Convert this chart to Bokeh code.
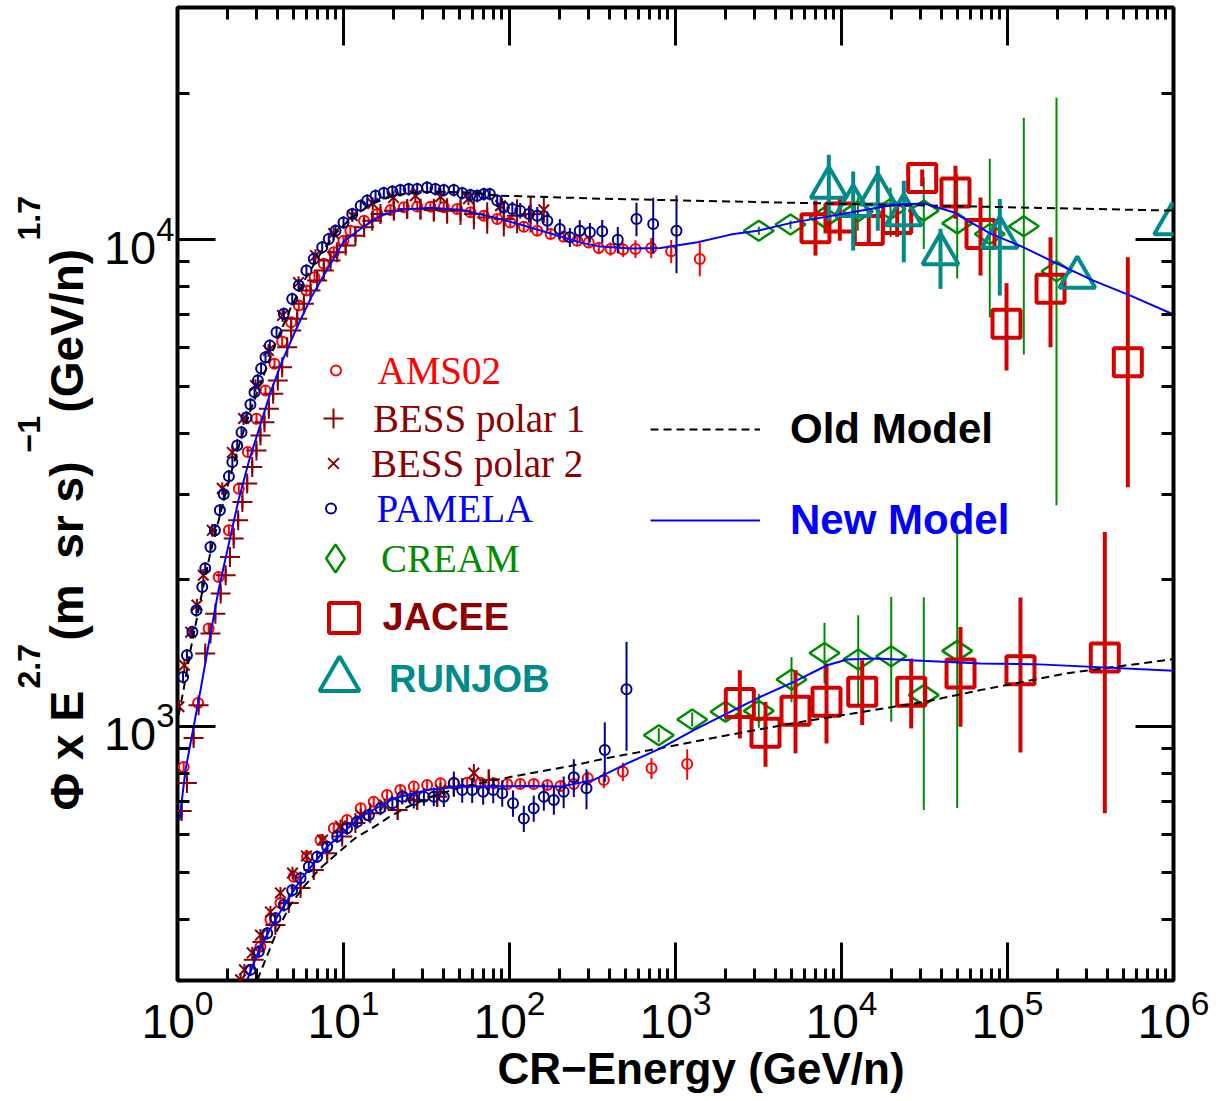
import math
from bokeh.plotting import figure
from bokeh.layouts import row
from bokeh.models import (Range1d, LogAxis, LogTicker, FixedTicker, Legend,
                          LegendItem, Label, Title)
from bokeh.embed import file_html
from bokeh.resources import INLINE

# ------------------------------------------------------------------
# DATA  (E in GeV/n, flux values = Phi x E^2.7)
# ------------------------------------------------------------------
# ---- upper group ----
pamela_p_E = [1.08, 1.14, 1.23, 1.30, 1.41, 1.47, 1.58, 1.68, 1.80, 1.90,
              2.04, 2.14, 2.29, 2.43, 2.60, 2.75, 2.91, 3.05, 3.19, 3.39,
              3.60, 3.95, 4.37, 4.91, 5.38, 5.98, 6.62, 7.44, 8.15, 8.95,
              10.0, 11.3, 12.7, 13.9, 15.6, 17.5, 19.7, 22.0, 24.7, 27.8,
              31.9, 35.8, 40.2, 46.2, 51.9, 58.2, 63.9, 70.0, 76.1, 84.3,
              92.4, 104, 116, 131, 147, 169, 201, 231, 265, 305,
              362, 449, 582, 734, 1014]
pamela_p_F = [1262, 1399, 1562, 1731, 1932, 2110, 2335, 2526, 2777, 2995,
              3261, 3489, 3776, 4016, 4310, 4583, 4858, 5135, 5435, 5732,
              6058, 6452, 7038, 7552, 8045, 8636, 9128, 9643, 10030, 10430,
              10850, 11290, 11740, 12030, 12310, 12470, 12560, 12650, 12710, 12710,
              12800, 12710, 12650, 12650, 12470, 12350, 12310, 12410, 12410, 12030,
              11650, 11560, 11470, 11290, 11200, 10940, 10520, 10110, 10430, 10350,
              10400, 9990, 11030, 10770, 10430]
pamela_p_err = [38, 42, 47, 52, 58, 63, 70, 76, 83, 90,
                98, 105, 113, 120, 129, 137, 146, 154, 163, 172,
                182, 194, 211, 227, 241, 259, 274, 289, 301, 313,
                326, 339, 352, 361, 369, 374, 377, 380, 381, 381,
                384, 381, 380, 380, 374, 371, 369, 372, 372, 361,
                360, 400, 420, 450, 470, 500, 500, 450, 530, 470,
                570, 620, 870, 1415, 1900]

ams_p_E = [1.09, 1.33, 1.54, 1.77, 2.04, 2.34, 2.65, 2.99, 3.39, 3.84,
           4.27, 4.84, 5.38, 5.98, 6.69, 7.61, 8.74, 10.0, 11.0, 13.3,
           16.0, 19.2, 23.1, 27.8, 33.4, 40.2, 48.4, 58.2, 70.0, 84.3,
           101, 122, 147, 177, 212, 256, 300, 345, 406, 484,
           574, 714, 942, 1401]
ams_p_F = [824, 1116, 1587, 2026, 2526, 3077, 3658, 4283, 4897, 5558,
           6175, 6764, 7319, 7858, 8368, 8916, 9417, 9950, 10430, 10940,
           11290, 11510, 11650, 11690, 11690, 11650, 11560, 11380, 11200, 11030,
           10850, 10630, 10430, 10270, 10140, 9950, 9870, 9616, 9570, 9540,
           9570, 9616, 9462, 9128]
ams_p_err = [21, 28, 40, 51, 63, 77, 91, 107, 122, 139,
             154, 169, 183, 196, 209, 223, 235, 249, 261, 274,
             282, 288, 291, 292, 292, 291, 289, 285, 280, 276,
             271, 266, 261, 257, 254, 260, 270, 280, 300, 330,
             400, 460, 520, 720]

bess1_p_E = [1.06, 1.14, 1.25, 1.34, 1.47, 1.58, 1.69, 1.82, 1.95, 2.07,
             2.18, 2.32, 2.46, 2.63, 2.82, 2.99, 3.16, 3.34, 3.55, 3.77,
             4.02, 4.27, 4.58, 4.84, 5.26, 5.77, 6.33, 6.94, 7.61, 8.35,
             9.16, 10.3, 11.8, 13.3, 14.9, 16.7, 20.1, 24.2, 29.1, 35.0,
             42.1, 50.7, 61.0, 73.4, 92.4, 111, 134]
bess1_p_F = [669, 764, 945, 1104, 1410, 1550, 1703, 1873, 2042, 2227,
             2429, 2649, 2888, 3151, 3408, 3688, 3959, 4215, 4491, 4822,
             5135, 5469, 6010, 6503, 6875, 7379, 7858, 8238, 8636, 9055,
             9417, 9720, 10190, 10600, 10940, 11290, 11470, 11560, 11560, 11510,
             11470, 11470, 11290, 11110, 11030, 11200, 11290]
bess1_p_err = [20, 23, 28, 33, 42, 47, 51, 56, 61, 67,
               73, 79, 87, 95, 102, 111, 119, 126, 135, 145,
               154, 164, 180, 195, 206, 221, 236, 247, 259, 272,
               283, 292, 306, 318, 350, 400, 460, 520, 580, 630,
               690, 750, 790, 830, 880, 900, 950]

bess2_p_E = [1.02, 1.10, 1.20, 1.31, 1.43, 1.62, 1.86, 2.14, 2.50, 2.95,
             3.53, 4.29, 5.36, 6.78, 8.71, 11.3, 15.0, 20.0, 27.1, 38.4,
             56.6, 88.3, 161]
bess2_p_F = [1096, 1334, 1560, 1773, 2042, 2526, 3081, 3653, 4288, 5014,
             5918, 6982, 8162, 9271, 10290, 11200, 11860, 12200, 12310, 12250,
             12140, 11740, 11520]
bess2_p_err = [33, 40, 47, 53, 61, 76, 92, 110, 129, 150,
               178, 209, 245, 278, 309, 336, 356, 366, 369, 368,
               364, 470, 700]

cream_p_E = [3176, 4930, 7900, 12540, 19740, 31310, 49770, 78220, 125400, 197300]
cream_p_F = [10430, 10740, 11110, 11430, 11560, 11470, 10800, 10270, 10650, 8608]
cream_p_lo = [10220, 10530, 10290, 10430, 10110, 9570, 8315, 6917, 5806, 2843]
cream_p_hi = [10640, 10950, 11860, 12210, 12800, 13430, 13660, 14670, 17800, 19570]

jacee_p_E = [6970, 9770, 14600, 21650, 30620, 48600, 68770, 98630, 181600, 530500]
jacee_p_F = [10550, 11110, 10470, 11030, 13390, 12500, 10270, 6713, 7921, 5598]
jacee_p_lo = [9271, 9952, 9720, 10140, 12870, 11040, 8436, 5383, 6010, 3096]
jacee_p_hi = [12030, 12210, 11580, 11860, 13930, 14190, 12210, 8136, 10110, 9200]

runjob_p_E = [8385, 11760, 16550, 23730, 39480, 89870, 263000, 982000]
runjob_p_F = [12800, 11740, 12410, 11250, 9346, 10110, 8368, 10770]
runjob_p_lo = [10940, 9493, 10430, 8984, 7921, 7674, 8368, 10770]
runjob_p_hi = [14940, 13810, 14190, 13220, 10530, 12120, 8368, 10770]

old_p_E = [1.014, 1.087, 1.197, 1.376, 1.58, 1.82, 2.09, 2.40, 2.75, 3.25,
           3.89, 4.79, 5.90, 7.27, 8.95, 11.0, 14.5, 19.2, 25.3, 38.4,
           58.2, 88.3, 353, 2057, 22670, 1000000]
old_p_F = [1053, 1186, 1432, 1815, 2277, 2750, 3292, 3867, 4455, 5183,
           6115, 7215, 8316, 9360, 10290, 11040, 11800, 12250, 12490, 12550,
           12490, 12310, 12140, 11980, 11780, 11470]

new_p_E = [1.028, 1.117, 1.249, 1.376, 1.537, 1.766, 2.028, 2.33, 2.68, 3.08,
           3.63, 4.29, 5.14, 6.33, 7.79, 10.0, 12.7, 16.7, 22.0, 33.4,
           50.7, 76.8, 116, 177, 268, 353, 536, 812, 1357, 2145,
           3119, 5137, 8235, 13020, 20570, 31190, 47280, 79000, 124900, 200100,
           329700, 550800, 1000000]
new_p_F = [641, 812, 995, 1186, 1467, 1902, 2353, 2911, 3484, 4054,
           4851, 5644, 6503, 7564, 8556, 9905, 10530, 11200, 11520, 11630,
           11520, 11150, 10740, 10290, 9859, 9674, 9584, 9616, 9873, 10240,
           10430, 10850, 11150, 11470, 11800, 11870, 11380, 10290, 9643, 8916,
           8238, 7674, 7015]

# ---- lower group ----
pamela_he_E = [2.75, 3.09, 3.47, 3.89, 4.37, 4.91, 5.51, 6.18, 6.94, 7.98,
               9.16, 10.5, 12.1, 14.2, 16.7, 19.7, 22.6, 26.5, 30.5, 35.0,
               40.2, 46.2, 51.9, 59.6, 69.4, 79.8, 90.4, 105, 122, 140,
               161, 185, 212, 244, 291, 375, 507]
pamela_he_F = [315.5, 344, 375, 403, 429, 460, 487, 514, 539, 565,
               593, 617, 636, 656, 678, 694, 716, 705, 716, 716,
               716, 763, 739, 739, 733, 739, 728, 694, 646, 678,
               716, 705, 733, 785, 745, 893, 1190]
pamela_he_err = [9, 10, 11, 12, 13, 14, 15, 15, 16, 17,
                 18, 19, 20, 21, 22, 24, 26, 28, 30, 32,
                 34, 44, 43, 44, 44, 45, 45, 43, 40, 42,
                 46, 48, 55, 70, 70, 125, 300]

ams_he_E = [3.16, 3.63, 4.17, 5.02, 6.04, 7.27, 8.74, 10.5, 12.7, 15.2,
            18.3, 22.0, 26.5, 31.9, 38.4, 46.2, 55.6, 66.9, 80.4, 96.9,
            116, 140, 169, 203, 244, 296, 370, 482, 717, 1176]
ams_he_F = [352, 400, 433, 490, 539, 583, 617, 641, 678, 699,
            722, 739, 751, 757, 763, 765, 765, 765, 763, 760,
            760, 760, 757, 753, 760, 781, 775, 806, 819, 836]
ams_he_err = [7, 8, 9, 10, 11, 12, 12, 13, 14, 14,
              14, 15, 15, 15, 15, 15, 15, 15, 15, 15,
              16, 17, 18, 19, 22, 26, 30, 35, 40, 60]

bess1_he_E = [2.88, 3.25, 3.89, 4.68, 5.51, 6.62, 7.98, 9.82, 11.8, 14.5,
              21.2, 27.8, 36.7, 46.2, 75.0]
bess1_he_F = [331, 360, 390, 433, 465, 506, 548, 593, 632, 662,
              672, 705, 716, 751, 775]
bess1_he_err = [10, 11, 12, 13, 14, 15, 16, 18, 19, 20,
                30, 32, 34, 36, 40]

bess2_he_E = [2.40, 2.53, 2.82, 3.16, 3.63, 4.17, 4.93, 5.98, 7.47, 9.59,
              12.7, 17.7, 25.3, 38.4, 61.0]
bess2_he_F = [301, 315.5, 342, 372, 415, 454, 499, 541, 583, 623,
              656, 688, 715, 739, 801]
bess2_he_err = [9, 9, 10, 11, 12, 13, 15, 16, 17, 19,
                20, 21, 22, 25, 35]

cream_he_E = [793, 1261, 2001, 3176, 4998, 7900, 12610, 19930, 31310, 49770]
cream_he_F = [958, 1032, 1070, 1075, 1247, 1414, 1371, 1392, 1158, 1428]
cream_he_lo = [927, 998, 1021, 992, 1120, 1224, 1096, 1021, 672, 679]
cream_he_hi = [990, 1067, 1122, 1165, 1386, 1630, 1690, 1843, 1840, 2586]

jacee_he_E = [2440, 3485, 5284, 8121, 13330, 26300, 52120, 119700, 385600]
jacee_he_F = [1116, 969, 1075, 1122, 1176, 1176, 1283, 1303, 1384]
jacee_he_lo = [943, 825, 879, 921, 1005, 989, 997, 883, 662]
jacee_he_hi = [1303, 1122, 1303, 1345, 1366, 1377, 1599, 1838, 2506]

old_he_E = [3.03, 3.39, 4.00, 4.79, 5.74, 7.27, 9.20, 11.8, 15.2, 19.2,
            24.3, 33.4, 50.7, 101, 233, 389, 812, 2057, 5137, 13020,
            32970, 68770, 229800, 1000000]
old_he_F = [301, 331, 381, 429, 467, 511, 548, 589, 620, 653,
            682, 715, 749, 786, 828, 860, 901, 958, 1014, 1068,
            1125, 1186, 1285, 1373]

new_he_E = [2.63, 3.16, 3.99, 5.51, 7.98, 12.7, 20.1, 31.9, 50.7, 128,
            203, 322, 512, 812, 1289, 2048, 3251, 5160, 8201, 10820,
            16410, 26040, 68770, 144000, 1000000]
new_he_F = [301, 352, 406, 483, 565, 651, 710, 739, 751, 753,
            751, 775, 838, 900, 981, 1062, 1149, 1233, 1334, 1371,
            1377, 1366, 1345, 1341, 1300]

y_major_ticks = [1000, 10000]
y_minor_ticks = [400, 500, 600, 700, 800, 900, 2000, 3000, 4000, 5000,
                 6000, 7000, 8000, 9000, 20000, 30000]

# ------------------------------------------------------------------
C_AMS = "#ff0000"
C_BESS = "#8b0000"
C_PAM = "#00008b"
C_CREAM = "#008c00"
C_JACEE = "#d40000"
C_RUN = "#008b8b"
SERIF = "Liberation Serif"
SANS = "Liberation Sans"

LEFT_W = 100         # width of the strip that carries the y-axis title
H = 1101
TOP_B = 7            # frame top (px from top)
BOT_B = 121          # space below frame

# ------------------------------------------------------------------
p = figure(width=1221 - LEFT_W, height=H, x_axis_type="log", y_axis_type="log",
           x_range=Range1d(1, 1e6), y_range=Range1d(300, 30000),
           output_backend="svg", toolbar_location=None,
           min_border_left=177 - LEFT_W, min_border_right=48,
           min_border_top=TOP_B, min_border_bottom=BOT_B)
p.grid.visible = False
p.outline_line_color = "black"
p.outline_line_width = 4
p.background_fill_color = "white"
p.border_fill_color = "white"


def style_ticks(ax):
    ax.axis_line_color = None
    ax.major_tick_in = 38
    ax.major_tick_out = 0
    ax.major_tick_line_width = 3
    ax.major_tick_line_color = "black"
    ax.minor_tick_in = 12
    ax.minor_tick_out = 0
    ax.minor_tick_line_width = 3
    ax.minor_tick_line_color = "black"


xb = p.below[0]
yl = p.left[0]
xb.ticker = LogTicker(num_minor_ticks=10)
yl.ticker = FixedTicker(ticks=y_major_ticks, minor_ticks=y_minor_ticks)
style_ticks(xb)
style_ticks(yl)
for ax in (xb, yl):
    ax.major_label_text_font = SANS
    ax.major_label_text_color = "black"
xb.major_label_text_font_size = "48px"
yl.major_label_text_font_size = "47px"
xb.major_label_standoff = 8
yl.major_label_standoff = 3

xt = LogAxis(ticker=LogTicker(num_minor_ticks=10))
yr = LogAxis(ticker=FixedTicker(ticks=y_major_ticks, minor_ticks=y_minor_ticks))
for ax in (xt, yr):
    style_ticks(ax)
    ax.major_label_text_font_size = "1px"
    ax.major_label_text_alpha = 0
    ax.major_label_standoff = 0
p.add_layout(xt, "above")
p.add_layout(yr, "right")

# x-axis title
p.add_layout(Title(text="CR\u2212Energy (GeV/n)", align="left", offset=320,
                   text_font=SANS, text_font_style="bold", text_font_size="44px",
                   text_color="black", standoff=2), "below")


def errbar(E, lo, hi, color, width):
    p.segment(x0=E, y0=lo, x1=E, y1=hi, line_color=color, line_width=width)


def sym(F, err, sign):
    return [f + sign * e for f, e in zip(F, err)]


# ---- data: error bars + markers ----
errbar(ams_p_E, sym(ams_p_F, ams_p_err, -1), sym(ams_p_F, ams_p_err, 1), C_AMS, 2)
errbar(ams_he_E, sym(ams_he_F, ams_he_err, -1), sym(ams_he_F, ams_he_err, 1), C_AMS, 2)
r_ams = p.scatter(ams_p_E, ams_p_F, marker="circle", size=10, fill_color=None,
                  line_color=C_AMS, line_width=2)
p.scatter(ams_he_E, ams_he_F, marker="circle", size=10, fill_color=None,
          line_color=C_AMS, line_width=2)

errbar(bess1_p_E, sym(bess1_p_F, bess1_p_err, -1), sym(bess1_p_F, bess1_p_err, 1), C_BESS, 2)
errbar(bess1_he_E, sym(bess1_he_F, bess1_he_err, -1), sym(bess1_he_F, bess1_he_err, 1), C_BESS, 2)
r_b1 = p.scatter(bess1_p_E, bess1_p_F, marker="cross", size=20,
                 line_color=C_BESS, line_width=2)
p.scatter(bess1_he_E, bess1_he_F, marker="cross", size=20,
          line_color=C_BESS, line_width=2)

errbar(bess2_p_E, sym(bess2_p_F, bess2_p_err, -1), sym(bess2_p_F, bess2_p_err, 1), C_BESS, 2)
errbar(bess2_he_E, sym(bess2_he_F, bess2_he_err, -1), sym(bess2_he_F, bess2_he_err, 1), C_BESS, 2)
r_b2 = p.scatter(bess2_p_E, bess2_p_F, marker="x", size=15,
                 line_color=C_BESS, line_width=2)
p.scatter(bess2_he_E, bess2_he_F, marker="x", size=15,
          line_color=C_BESS, line_width=2)

errbar(pamela_p_E, sym(pamela_p_F, pamela_p_err, -1), sym(pamela_p_F, pamela_p_err, 1), C_PAM, 2)
errbar(pamela_he_E, sym(pamela_he_F, pamela_he_err, -1), sym(pamela_he_F, pamela_he_err, 1), C_PAM, 2)
r_pam = p.scatter(pamela_p_E, pamela_p_F, marker="circle", size=10, fill_color=None,
                  line_color=C_PAM, line_width=2)
p.scatter(pamela_he_E, pamela_he_F, marker="circle", size=10, fill_color=None,
          line_color=C_PAM, line_width=2)

errbar(cream_p_E, cream_p_lo, cream_p_hi, C_CREAM, 2)
errbar(cream_he_E, cream_he_lo, cream_he_hi, C_CREAM, 2)
r_cream = p.scatter(cream_p_E, cream_p_F, marker="diamond", size=30, angle=math.pi / 2,
                    fill_color=None, line_color=C_CREAM, line_width=2.5)
p.scatter(cream_he_E, cream_he_F, marker="diamond", size=30, angle=math.pi / 2,
          fill_color=None, line_color=C_CREAM, line_width=2.5)

errbar(jacee_p_E, jacee_p_lo, jacee_p_hi, C_JACEE, 4)
errbar(jacee_he_E, jacee_he_lo, jacee_he_hi, C_JACEE, 4)
r_jac = p.scatter(jacee_p_E, jacee_p_F, marker="square", size=28, fill_color=None,
                  line_color=C_JACEE, line_width=4)
p.scatter(jacee_he_E, jacee_he_F, marker="square", size=28, fill_color=None,
          line_color=C_JACEE, line_width=4)

errbar(runjob_p_E, runjob_p_lo, runjob_p_hi, C_RUN, 4)
r_run = p.scatter(runjob_p_E, runjob_p_F, marker="triangle", size=36, fill_color=None,
                  line_color=C_RUN, line_width=4)

# ---- models ----
r_old = p.line(old_p_E, old_p_F, line_color="black", line_width=2, line_dash="8 5")
p.line(old_he_E, old_he_F, line_color="black", line_width=2, line_dash="8 5")
r_new = p.line(new_p_E, new_p_F, line_color="#0000ff", line_width=2)
p.line(new_he_E, new_he_F, line_color="#0000ff", line_width=2)


# ---- legends (one per entry, each with its own text style) ----
def add_legend(label, rend, font, style, color, fsize, gw, gh, fx, fy, standoff):
    lg = Legend(items=[LegendItem(label=label, renderers=[rend])],
                location=(fx, fy), padding=0, margin=0, spacing=0,
                glyph_width=gw, glyph_height=gh, label_height=gh,
                label_standoff=standoff,
                label_text_font=font, label_text_font_style=style,
                label_text_color=color, label_text_font_size=fsize,
                border_line_color=None, background_fill_alpha=0)
    p.add_layout(lg)


add_legend("AMS02", r_ams, SERIF, "normal", C_AMS, "39px", 25, 56, 145.5, 582, 30)
add_legend("BESS polar 1", r_b1, SERIF, "normal", C_BESS, "39px", 50, 56, 131, 534, 15)
add_legend("BESS polar 2", r_b2, SERIF, "normal", C_BESS, "39px", 38, 56, 137, 489, 19)
add_legend("PAMELA", r_pam, SERIF, "normal", "#0000ff", "39px", 25, 56, 140.5, 444, 34)
add_legend("CREAM", r_cream, SERIF, "normal", C_CREAM, "39px", 70, 70, 123, 387, 11)
add_legend("JACEE", r_jac, SANS, "bold", "#8b0000", "38px", 75, 75, 128.5, 325.5, 2)
add_legend("RUNJOB", r_run, SANS, "bold", C_RUN, "38px", 100, 100, 112, 251, 0)
add_legend("Old Model", r_old, SANS, "bold", "black", "42px", 110, 56, 473, 523, 30)
add_legend("New Model", r_new, SANS, "bold", "#0000ff", "42px", 110, 56, 473, 432, 30)

# ------------------------------------------------------------------
# left strip: y-axis title built from pieces (with superscripts).
# Its frame is aligned with the main frame (canvas y 7..980), so the
# range below maps data-y = 1101 - canvas-y.
lab = figure(width=LEFT_W, height=H, x_range=Range1d(0, LEFT_W),
             y_range=Range1d(BOT_B, H - TOP_B),
             output_backend="svg", toolbar_location=None,
             x_axis_location=None, y_axis_location=None,
             min_border_left=0, min_border_right=0,
             min_border_top=TOP_B, min_border_bottom=BOT_B)
lab.outline_line_color = None
lab.grid.visible = False
lab.background_fill_color = "white"
lab.border_fill_color = "white"

MAIN_X = 66
SUP_X = 28
ylabel_parts = [
    ("\u03a6 x E", MAIN_X, 810, "46px"),
    ("2.7", SUP_X, 688, "32px"),
    ("(m\u00a0 sr s)", MAIN_X, 640, "46px"),
    ("\u22121", SUP_X, 452, "32px"),
    ("(GeV/n)", MAIN_X, 412, "46px"),
    ("1.7", SUP_X, 240, "32px"),
]
for txt, cx, cy, fs in ylabel_parts:
    lab.add_layout(Label(x=cx, y=H - cy, text=txt,
                         angle=math.pi / 2, text_font=SANS, text_font_style="bold",
                         text_font_size=fs, text_color="black",
                         text_align="left", text_baseline="alphabetic"))

layout = row(lab, p, spacing=0)
open("out.html", "w").write(file_html(layout, INLINE))
